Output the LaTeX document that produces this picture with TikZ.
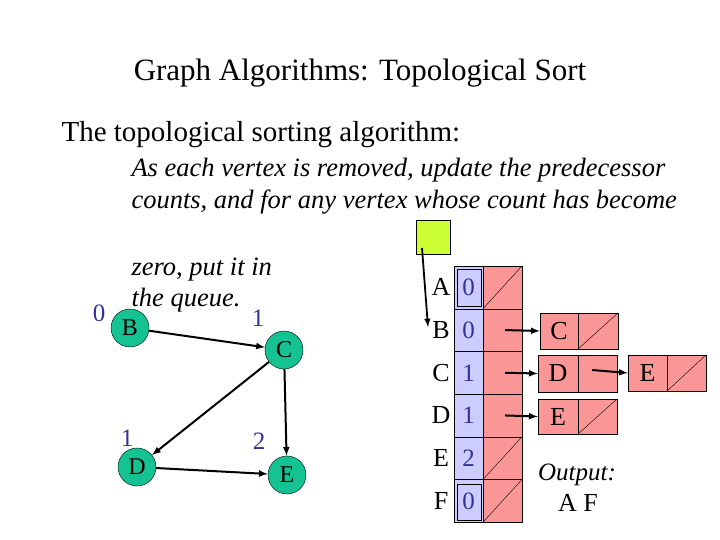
\documentclass[tikz,border=0pt]{standalone}
\usepackage{fontspec}
\setmainfont{Liberation Serif}
\begin{document}
\begin{tikzpicture}[x=1pt,y=-1pt,
  vtx/.style={circle,draw,fill=vgreen,minimum size=38pt,inner sep=0pt,font=\fontsize{24}{24}\selectfont},
  cnt/.style={text=numblue,font=\fontsize{25}{25}\selectfont},
  arr/.style={-latex,line width=2pt},
  blu/.style={draw,fill=cblue},
  red/.style={draw,fill=cred},
  lab/.style={font=\fontsize{26}{26}\selectfont},
  itl/.style={anchor=west,font=\fontsize{26.5}{26.5}\itshape}]
\definecolor{vgreen}{RGB}{20,195,145}
\definecolor{numblue}{RGB}{50,50,150}
\definecolor{cblue}{RGB}{204,204,255}
\definecolor{cred}{RGB}{250,150,150}
\definecolor{qgreen}{RGB}{204,255,51}
\useasboundingbox (0,0) rectangle (720,540);
\node[font=\fontsize{31}{31}\selectfont] (title) at (360,73) {Graph Algorithms: Topological Sort};
\node[anchor=west,font=\fontsize{29}{29}\selectfont] (t1) at (58,135) {The topological sorting algorithm:};
\node[itl] (t2) at (128,170) {As each vertex is removed, update the predecessor};
\node[itl] (t3) at (128,202) {counts, and for any vertex whose count has become};
\node[itl] (t4) at (128,270) {zero, put it in};
\node[itl] (t5) at (128,300) {the queue.};
% graph
\node[vtx] (B) at (130,328) {B};
\node[vtx] (C) at (284,350) {C};
\node[vtx] (D) at (137,467) {D};
\node[vtx] (E) at (287,475) {E};
\node[cnt] (nB) at (99,313) {0};
\node[cnt] (nC) at (258,318) {1};
\node[cnt] (nD) at (127,438) {1};
\node[cnt] (nE) at (259,441) {2};
\draw[arr] (B) -- (C);
\draw[arr] (C) -- (D);
\draw[arr] (C) -- (E);
\draw[arr] (D) -- (E);
% queue
\node[draw,fill=qgreen,minimum size=34pt,inner sep=0pt] (Q) at (433,237) {};
\coordinate (qs) at (422,248);
\coordinate (qe) at (428,327);
\draw[-latex,line width=1.8pt] (qs) -- (qe);
% table
\foreach \n/\c/\k [count=\i from 0] in {A/0/a,B/0/b,C/1/c,D/1/d,E/2/e,F/0/f}{
  \pgfmathsetmacro{\yt}{266+42.7*\i}
  \pgfmathsetmacro{\yb}{266+42.7*(\i+1)}
  \pgfmathsetmacro{\ym}{266+42.7*(\i+0.5)}
  \draw[blu] (454,\yt) rectangle (483,\yb);
  \draw[red] (483,\yt) rectangle (522,\yb);
  \node[cnt] (c\k) at (468.5,\ym) {\c};
  \node[lab] (l\k) at (441,\ym) {\n};
  \coordinate (p\k) at (505,\ym);
}
\foreach \i in {0,4,5}{
  \pgfmathsetmacro{\yt}{266+42.7*\i}
  \pgfmathsetmacro{\yb}{266+42.7*(\i+1)}
  \draw (483,\yb) -- (522,\yt);
}
\draw[line width=1pt] (457,269) rectangle (481,306);
\draw[line width=1pt] (457,484) rectangle (481,520);
% lists
\node[red,minimum width=38pt,minimum height=36pt,inner sep=0pt,lab] (bC) at (559,331) {C};
\node[red,minimum width=40pt,minimum height=36pt,inner sep=0pt] (bCn) at (598,331) {};
\draw (bCn.south west) -- (bCn.north east);
\node[red,minimum width=40pt,minimum height=37pt,inner sep=0pt,lab] (cD) at (558,373.5) {D};
\node[red,minimum width=39pt,minimum height=37pt,inner sep=0pt] (cDn) at (597.5,373.5) {};
\node[red,minimum width=39pt,minimum height=36pt,inner sep=0pt,lab] (cE) at (647.5,373) {E};
\node[red,minimum width=39pt,minimum height=36pt,inner sep=0pt] (cEn) at (686.5,373) {};
\draw (cEn.south west) -- (cEn.north east);
\node[red,minimum width=40pt,minimum height=35pt,inner sep=0pt,lab] (dE) at (558,416.5) {E};
\node[red,minimum width=39pt,minimum height=35pt,inner sep=0pt] (dEn) at (597.5,416.5) {};
\draw (dEn.south west) -- (dEn.north east);
\draw[arr] (pb) -- (bC.west);
\draw[arr] (pc) -- (cD.west);
\coordinate (cDp) at (592,370);
\draw[arr] (cDp) -- (cE.west);
\draw[arr] (pd) -- (dE.west);
\node[font=\fontsize{25}{25}\itshape] (out) at (577,475) {Output:};
\node[lab] (outv) at (578,503) {A F};
\end{tikzpicture}
\end{document}
